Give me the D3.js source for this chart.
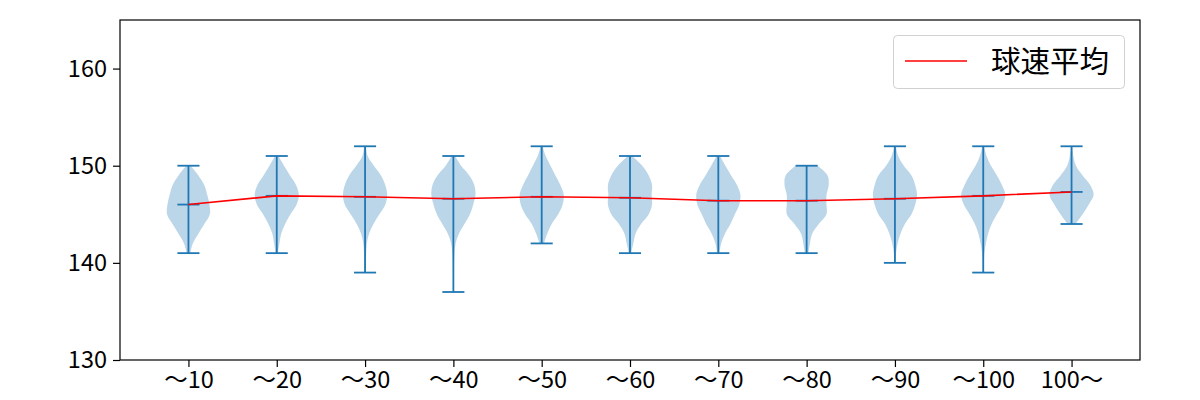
<!DOCTYPE html>
<html>
<head>
<meta charset="utf-8">
<script src="https://cdn.jsdelivr.net/npm/d3@7"></script>
<style>
  html, body { margin: 0; padding: 0; background: #fff; }
  svg { display: block; }
  text { font-family: "Noto Sans CJK JP", "Noto Sans", sans-serif; fill: #000; }
</style>
</head>
<body>
<svg id="chart" width="1200" height="400"></svg>
<script>
// ---- data ----
const categories = ["〜10", "〜20", "〜30", "〜40", "〜50", "〜60", "〜70", "〜80", "〜90", "〜100", "100〜"];
const means = [146.0, 146.9, 146.8, 146.6, 146.8, 146.7, 146.4, 146.4, 146.6, 146.9, 147.3];
const mins  = [141, 141, 139, 137, 142, 141, 141, 141, 140, 139, 144];
const maxs  = [150, 151, 152, 151, 152, 151, 151, 150, 152, 152, 152];
// relative density at 1 km/h steps from min to max (1 = widest)
const densities = [
  [0.08, 0.2, 0.45, 0.72, 0.97, 0.95, 0.85, 0.72, 0.45, 0.1],
  [0.05, 0.12, 0.2, 0.38, 0.62, 0.9, 1.0, 0.88, 0.6, 0.33, 0.08],
  [0.03, 0.04, 0.05, 0.08, 0.18, 0.38, 0.65, 0.92, 1.0, 0.92, 0.72, 0.4, 0.12, 0.04],
  [0.01, 0.01, 0.02, 0.03, 0.05, 0.1, 0.25, 0.5, 0.75, 0.9, 1.0, 0.95, 0.72, 0.35, 0.08],
  [0.1, 0.25, 0.45, 0.75, 0.95, 1.0, 0.85, 0.62, 0.4, 0.18, 0.04],
  [0.05, 0.15, 0.25, 0.5, 0.85, 1.0, 0.98, 1.0, 0.85, 0.55, 0.1],
  [0.05, 0.13, 0.3, 0.55, 0.75, 0.95, 1.0, 0.85, 0.58, 0.32, 0.08],
  [0.08, 0.15, 0.25, 0.55, 0.9, 0.9, 0.9, 1.0, 0.95, 0.5],
  [0.03, 0.05, 0.12, 0.25, 0.45, 0.75, 0.92, 1.0, 0.92, 0.75, 0.4, 0.15, 0.04],
  [0.02, 0.03, 0.05, 0.12, 0.22, 0.38, 0.62, 0.88, 1.0, 0.85, 0.62, 0.35, 0.15, 0.04],
  [0.18, 0.5, 0.78, 1.0, 0.85, 0.5, 0.2, 0.08, 0.03]
];
const yTicks = [130, 140, 150, 160];
const legendLabel = "球速平均";

// ---- layout ----
const svg = d3.select("#chart");
const L = 120, R = 1140, T = 20, B = 360;
const positions = categories.map((_, i) => i + 1);
const x = d3.scaleLinear().domain([0.225, 11.775]).range([L, R]);
const y = d3.scaleLinear().domain([130, 165]).range([B, T]);
const blue = "#1f77b4";
const halfW = x(1.25) - x(1);   // violin half width (0.25 units)
const capW = x(1.125) - x(1);   // cap half width

// violins
const area = d3.area()
  .curve(d3.curveCatmullRom.alpha(0.5))
  .y(d => y(d.v))
  .x0(d => d.c - d.w * halfW)
  .x1(d => d.c + d.w * halfW);

categories.forEach((c, i) => {
  const cx = x(positions[i]);
  const pts = densities[i].map((w, k) => ({ v: mins[i] + k, w: w, c: cx }));
  svg.append("path")
    .attr("d", area(pts))
    .attr("fill", blue)
    .attr("fill-opacity", 0.3)
    .attr("stroke", "none");
});

// vertical lines, caps, mean markers
const g = svg.append("g").attr("stroke", blue).attr("stroke-width", 1.8);
categories.forEach((c, i) => {
  const cx = x(positions[i]);
  g.append("line").attr("x1", cx).attr("x2", cx).attr("y1", y(mins[i])).attr("y2", y(maxs[i]));
  [mins[i], maxs[i], means[i]].forEach(v => {
    g.append("line").attr("x1", cx - capW).attr("x2", cx + capW).attr("y1", y(v)).attr("y2", y(v));
  });
});

// mean line
const line = d3.line().x((d, i) => x(positions[i])).y(d => y(d));
svg.append("path")
  .attr("d", line(means))
  .attr("fill", "none")
  .attr("stroke", "#ff0000")
  .attr("stroke-width", 1.6);

// axes
const yAxis = d3.axisLeft(y).tickValues(yTicks).tickSize(7).tickPadding(6).tickFormat(d3.format("d"));
const xAxis = d3.axisBottom(x).tickValues(positions).tickSize(7).tickPadding(4).tickFormat((d, i) => categories[i]);

const ya = svg.append("g").attr("transform", `translate(${L},0)`).call(yAxis);
const xa = svg.append("g").attr("transform", `translate(0,${B})`).call(xAxis);
[ya, xa].forEach(a => {
  a.select(".domain").remove();
  a.selectAll(".tick line").attr("stroke", "#000").attr("stroke-width", 1.2);
  a.selectAll(".tick text").style("font-size", "23.5px").attr("fill", "#1a1a1a");
});

// frame
svg.append("rect")
  .attr("x", L).attr("y", T).attr("width", R - L).attr("height", B - T)
  .attr("fill", "none").attr("stroke", "#000").attr("stroke-width", 1.2);

// legend
const lg = svg.append("g");
lg.append("rect")
  .attr("x", 893.5).attr("y", 35.5).attr("width", 231).attr("height", 53).attr("rx", 4)
  .attr("fill", "#fff").attr("fill-opacity", 0.8)
  .attr("stroke", "#d0d0d0").attr("stroke-width", 1);
lg.append("line")
  .attr("x1", 905).attr("x2", 967).attr("y1", 61).attr("y2", 61)
  .attr("stroke", "#ff0000").attr("stroke-width", 1.6);
lg.append("text")
  .attr("x", 991).attr("y", 72)
  .style("font-size", "29.5px")
  .attr("fill", "#1a1a1a")
  .text(legendLabel);
</script>
</body>
</html>
